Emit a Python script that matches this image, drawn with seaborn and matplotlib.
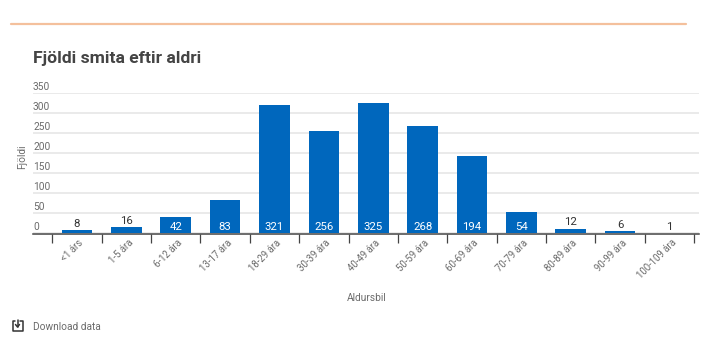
import pandas as pd
import seaborn as sns
import matplotlib.pyplot as plt
from matplotlib.lines import Line2D
from matplotlib.transforms import ScaledTranslation

age_groups = ['<1 árs', '1-5 ára', '6-12 ára', '13-17 ára', '18-29 ára', '30-39 ára', '40-49 ára',
              '50-59 ára', '60-69 ára', '70-79 ára', '80-89 ára', '90-99 ára', '100-109 ára']
cases = [8, 16, 42, 83, 321, 256, 325, 268, 194, 54, 12, 6, 1]
y_ticks = [0, 50, 100, 150, 200, 250, 300, 350]

W, H = 713, 357
BLUE = '#0067bd'
GREY = '#6b6b6b'

sns.set_theme(style='white')
plt.rcParams['font.family'] = ['Roboto', 'DejaVu Sans']

df = pd.DataFrame({'Aldursbil': age_groups, 'Fjoldi': cases})

fig = plt.figure(figsize=(W / 100, H / 100), dpi=100)
ax = fig.add_axes([33 / W, 1 - 233.4 / H, 666 / W, (233.4 - 93) / H])

sns.barplot(data=df, x='Aldursbil', y='Fjoldi', color=BLUE, saturation=1, width=0.62, linewidth=0, ax=ax, zorder=3)

ax.set_xlim(-0.89, 12.597)
ax.set_ylim(0, 350)

# grid only, the baseline is the spine
ax.set_yticks(y_ticks)
ax.yaxis.grid(True, color='#e4e4e4', linewidth=1.1, zorder=0)
ax.set_axisbelow(True)
sns.despine(ax=ax, left=True, top=True, right=True)
ax.spines['bottom'].set_color('#444444')
ax.spines['bottom'].set_linewidth(1.1)
ax.spines['bottom'].set_zorder(2.5)
ax.spines['bottom'].set_position(('outward', 0.5))

ax.tick_params(axis='y', length=0, pad=0, labelsize=7.3, labelcolor=GREY)
for lab in ax.get_yticklabels():
    lab.set_ha('left')
    lab.set_va('bottom')
    lab.set_transform(lab.get_transform() + ScaledTranslation(0, 1 / 72, fig.dpi_scale_trans))

# ticks sit on the band edges, labels on the band centres
ax.set_xticks([i - 0.5 for i in range(len(age_groups) + 1)], minor=True)
ax.tick_params(axis='x', which='minor', length=6.5, width=0.9, color='#444444', bottom=True)
ax.tick_params(axis='x', which='major', length=0, pad=2.5, labelsize=6.9, labelcolor=GREY)
ax.set_xticks(range(len(age_groups)))
ax.set_xticklabels(age_groups, rotation=45, ha='right', rotation_mode='anchor')
for lab in ax.get_xticklabels():
    lab.set_transform(lab.get_transform() + ScaledTranslation(1 / 72, 0, fig.dpi_scale_trans))

for i, v in enumerate(cases):
    if v >= 40:
        ax.text(i, 16.5, str(v), ha='center', va='center', color='white', fontsize=8.2, zorder=6)
    else:
        ax.annotate(str(v), (i, v), xytext=(0, 1), textcoords='offset points', ha='center', va='bottom',
                    color='#333333', fontsize=8.2, zorder=6)

ax.set_xlabel('')
ax.set_ylabel('')
fig.text(367 / W, 1 - 298 / H, 'Aldursbil', ha='center', va='center', fontsize=7.3, color=GREY)
fig.text(22 / W, 1 - 156.5 / H, 'Fjöldi', ha='center', va='center', rotation=90, fontsize=7.3, color=GREY)
fig.text(33 / W, 1 - 58 / H, 'Fjöldi smita eftir aldri', ha='left', va='center', fontsize=12.6, fontweight='bold',
         color='#444444')
fig.text(33 / W, 1 - 327 / H, 'Download data', ha='left', va='center', fontsize=7.3, color=GREY)

# orange rule at the top
fig.add_artist(Line2D([11 / W, 686 / W], [1 - 24 / H, 1 - 24 / H], color='#f4c09c', linewidth=1.6))

# download icon
def px_line(xs, ys, lw=1.1):
    fig.add_artist(Line2D([x / W for x in xs], [1 - y / H for y in ys], color='#333333', linewidth=lw))

px_line([15, 12.5, 12.5, 22.5, 22.5, 20], [321, 321, 331, 331, 321, 321])
px_line([17.5, 17.5], [320, 326.5])
px_line([15.5, 17.5, 19.5], [324.5, 327, 324.5])

fig.savefig('out.png', dpi=100)
